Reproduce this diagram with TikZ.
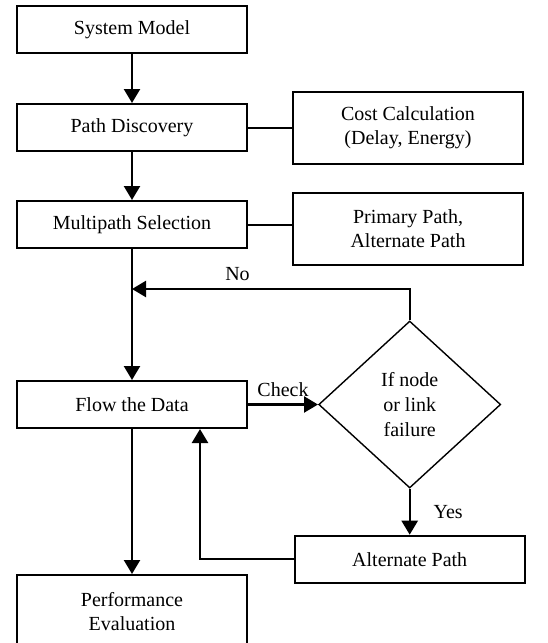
\documentclass[tikz,border=0pt]{standalone}
\usepackage{fontspec}
\setmainfont{Liberation Serif}
\usepackage{tikz}
\usetikzlibrary{shapes, arrows.meta, positioning, calc}

\begin{document}
\begin{tikzpicture}[node distance=24pt, >={Triangle[length=7pt,width=8pt]}, auto]
        \tikzset{
            box/.style={rectangle, draw, line width=1pt, minimum width=115pt, minimum height=23.5pt, align=center, font=\fontsize{10}{12}\selectfont},
            sidebox/.style={box, minimum height=36pt},
            decision/.style={diamond, draw, line width=0.7pt, minimum width=91pt, minimum height=83.5pt, inner sep=0pt, align=center, font=\fontsize{10}{12.5}\selectfont},
            flow/.style={->, line width=1.2pt},
            link/.style={line width=1pt}
        }
        \useasboundingbox (0,0) rectangle (273.5pt,-321.5pt);

        \node[box] (sys) at (66pt,-14.75pt) {System Model};
        \node[box, below=24.5pt of sys] (disc) {Path Discovery};
        \node[sidebox, right=22pt of disc] (cost) {Cost Calculation\\(Delay, Energy)};
        \node[box, below=24pt of disc] (multi) {Multipath Selection};
        \node[sidebox, right=22pt of multi, yshift=-2pt] (prim) {Primary Path,\\Alternate Path};

        \node[box, below=65.5pt of multi] (flowdata) {Flow the Data};
        \node[decision, right=35pt of flowdata] (fail) {If node\\or link\\failure};
        \node[box, below=23pt of fail] (alt) {Alternate Path};
        \node[box, minimum height=36.5pt, below=72.5pt of flowdata] (perf) {Performance\\Evaluation};

        \coordinate[below=20pt of multi.south] (join);

        \draw[flow] (sys) -- (disc);
        \draw[flow] (disc) -- (multi);
        \draw[link] (disc) -- (cost);
        \draw[link] (multi.east) -- (multi.east -| prim.west);
        \draw[flow] (multi) -- (flowdata);
        \draw[flow] (fail.north) |- (join) node[pos=0.81, above] {No};
        \draw[flow] (flowdata) -- node[above] {Check} (fail);
        \draw[flow] (fail.south) -- node[right, xshift=8pt] {Yes} (alt);
        \draw[flow] (alt.west) -| ([xshift=34pt]flowdata.south);
        \draw[flow] (flowdata) -- (perf);

    \end{tikzpicture}
\end{document}
